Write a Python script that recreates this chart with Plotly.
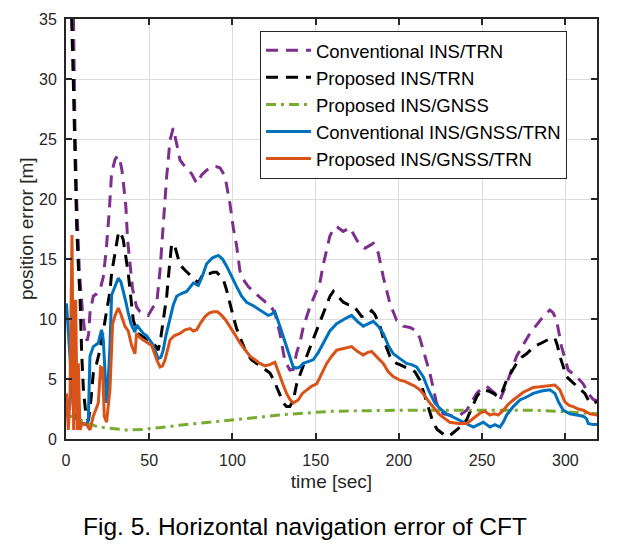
import plotly.graph_objects as go

# ---------------- data (time [sec], position error [m]) ----------------
conv_ins_trn = [
    (3.5, 45), (4.4, 34.6), (5.4, 26), (6.4, 20), (8, 14), (10, 10.5), (11.6, 8.5), (12.8, 8.2), (13.6, 8.8),
    (14.4, 10.5), (16.4, 11.9), (18.4, 12.1), (20.4, 12.4), (22.4, 13.5), (24.2, 15.8), (26, 19), (27.4, 22.2),
    (29.5, 23.3), (31, 23.6), (32.2, 23.4), (33.6, 22.4), (34.6, 21.2), (36, 19.3), (37, 16.6), (38.4, 14.5),
    (40, 12.5), (42.4, 11), (44.5, 10.6), (46.4, 10.4), (49.4, 10.3), (52.4, 11.0), (54.5, 11.3), (56.5, 14.1),
    (58.4, 18.25), (60.5, 21.9), (62.5, 24.9), (64.4, 25.9), (66.5, 24.6), (68.5, 23.25), (72, 22.6), (75.5, 22.1),
    (78.5, 21.3), (81.5, 22), (84.5, 22.4), (87.5, 22.7), (90, 22.7), (92.5, 22.6), (95.5, 21.9), (98.5, 19.6),
    (100.5, 17.6), (102.5, 16.1), (104.5, 14), (106.5, 13.3), (109.5, 12.7), (112.5, 12.3), (116.5, 11.8),
    (120, 11.4), (122.5, 11.2), (125.5, 10.5), (128.5, 8.8), (131.5, 6.5), (134.5, 5.75), (136.5, 5.8),
    (138.6, 7.2), (140.5, 8), (142.5, 9.3), (146.5, 11), (150, 12.2), (152.5, 13), (154.5, 14.5), (156.6, 15.75),
    (158.5, 16.9), (160.6, 17.5), (162.6, 17.7), (166.5, 17.3), (170.6, 17.6), (174.6, 16.6), (177, 16.1),
    (179.6, 15.9), (182, 16.1), (184.6, 16.3), (187.6, 15.5), (190.6, 13.5), (194.6, 11.3), (198.6, 9.9),
    (202.6, 9.4), (206.6, 9.3), (210.6, 9.0), (212.6, 8.4), (214.6, 7.4), (218.6, 5.5), (222.6, 3), (226.6, 2.1),
    (232.6, 1.9), (236.7, 2.0), (240.7, 2.4), (243.7, 3.1), (246.7, 3.8), (249.7, 4.2), (252.7, 4.4), (257.7, 3.8),
    (260.7, 3.25), (264.7, 4.6), (270.7, 6.9), (278.7, 8.8), (283, 9.6), (286.7, 10.2), (290.7, 10.75),
    (292.7, 10.5), (294.7, 9.9), (297.7, 7.7), (301.7, 5.75), (306.7, 5.2), (310.7, 4.6), (313.7, 3.8),
    (316.7, 3.3), (319, 3.2),
]

prop_ins_trn = [
    (2.5, 45), (3.4, 35), (4.4, 29.8), (5.4, 22.8), (6.4, 17.8), (7.4, 14.5), (8.4, 11.9), (9.4, 7.2), (10.5, 4),
    (12, 2), (13.5, 1.5), (15, 3.3), (16.4, 5.5), (18.4, 6.3), (20.4, 7.4), (22.4, 9), (24.4, 10.5), (26.4, 12.3),
    (27.4, 13.8), (28.4, 14.6), (30, 16), (31.4, 17.1), (32.5, 17.3), (34.4, 16.6), (35.8, 15.3), (37.4, 13.8),
    (40.4, 9.9), (43, 8.8), (46.4, 8.5), (50.5, 8.2), (53.5, 7.8), (55.4, 7.4), (57, 8.5), (58.5, 10), (60.5, 11.9),
    (62, 14.2), (63.5, 16.3), (65.5, 16.0), (68.5, 14.5), (72, 14.0), (75.5, 13.5), (79.5, 13), (82.5, 13.8),
    (86.5, 13.8), (88.5, 13.9), (90.5, 13.9), (92.5, 13.6), (94.5, 13.3), (96.5, 12.4), (98.5, 11.2),
    (100.5, 10.2), (102.5, 9.2), (105, 8.3), (108.5, 7.1), (111.5, 6.6), (114.5, 6.3), (117.5, 6.0), (120.5, 5.75),
    (122.5, 5.5), (124.5, 5.0), (126.5, 4.4), (128.5, 3.7), (130.5, 3.0), (132.5, 2.7), (134.5, 2.7), (136.5, 3.2),
    (138.6, 4.6), (141.5, 5.8), (144.6, 6.9), (147.6, 8.0), (150.6, 9.1), (153.6, 10.2), (156.6, 11.3),
    (158.6, 11.9), (160.6, 12.3), (163.5, 11.9), (166.6, 11.4), (169.5, 11.2), (172.6, 11.1), (175, 10.7),
    (177.6, 10.2), (180.5, 10.3), (183.6, 10.7), (185.5, 10.4), (188.6, 9.4), (191.5, 8.0), (194.6, 6.9),
    (196.6, 6.5), (198.6, 6.3), (200.6, 6.2), (203.6, 6.0), (206.6, 5.9), (209.6, 5.6), (212.6, 4.9), (214.6, 4.0),
    (216.6, 3.0), (218.6, 2.1), (220.7, 1.3), (223, 0.8), (225.7, 0.5), (228.6, 0.2), (231.6, 0.4), (234.7, 0.75),
    (237.7, 1.1), (240.7, 1.6), (243.7, 2.5), (246.7, 3.5), (248.7, 3.9), (250.7, 4.1), (253.7, 4.0), (256.7, 3.8),
    (259.7, 3.5), (262.2, 4.0), (264.7, 4.9), (267.7, 5.6), (270.7, 6.3), (273.7, 6.8), (276.7, 7.1), (279.7, 7.5),
    (282.7, 7.8), (285.7, 8.0), (288.7, 8.25), (291.2, 8.4), (293.7, 8.4), (295.2, 7.8), (296.7, 6.9), (298.7, 6.0),
    (300.7, 5.2), (303.7, 4.8), (306.7, 4.4), (309.2, 4.1), (311.7, 3.8), (313.2, 3.4), (314.7, 3.0), (316.7, 3.0),
    (319, 3.1),
]

prop_ins_gnss = [
    (0, 2.0), (5, 1.8), (10, 1.5), (15, 1.2), (20, 1.0), (28, 0.85), (36, 0.75), (46, 0.8), (54, 0.9), (60, 1.0),
    (68, 1.15), (80, 1.3), (90, 1.45), (100, 1.6), (115, 1.8), (128, 2.0), (140, 2.1), (158, 2.3), (175, 2.35),
    (190, 2.4), (205, 2.4), (220, 2.4), (235, 2.4), (250, 2.4), (265, 2.4), (280, 2.4), (295, 2.3), (305, 2.2),
    (319, 2.1),
]

conv_ins_gnss_trn = [
    (0.3, 11.3), (1.4, 9), (2.4, 6.3), (3.4, 4), (4.4, 2.5), (5.5, 1.8), (7, 1.5), (8.4, 1.3), (10, 1.3),
    (11.4, 1.2), (12.6, 1.3), (13.4, 1.6), (14.4, 6.9), (16.4, 7.7), (18.4, 7.9), (19.4, 8.0), (20.4, 8.6),
    (21.4, 9.1), (22.4, 8.25), (23.4, 5.5), (24.4, 3.0), (25.4, 5), (26.4, 7.7), (27.4, 12.0), (29, 12.6),
    (31.4, 13.4), (33, 13.1), (34.4, 12.4), (36, 11.4), (37.4, 10.5), (39, 9.6), (40.4, 9.2), (41.4, 8.9),
    (42.4, 9.5), (44, 9.2), (46.4, 8.8), (48.5, 8.6), (50.5, 8.25), (52, 7.9), (53.5, 7.4), (55.4, 6.7), (57, 6.8),
    (58.4, 7.4), (60, 8.6), (62.5, 10.2), (64.5, 11.2), (66.5, 11.9), (69, 12.1), (72.5, 12.3), (76.5, 13),
    (79.5, 12.8), (82, 13.6), (84.5, 14.6), (88, 15.1), (91.5, 15.3), (94, 15.0), (96.5, 14.4), (99.5, 13.5),
    (102.5, 12.7), (105.5, 11.9), (108.5, 11.4), (112.5, 11.1), (116.5, 10.75), (119, 10.5), (121.5, 10.3),
    (123.5, 10.4), (125.5, 10.6), (128.5, 9.4), (132.5, 7.7), (136.5, 6.0), (138.5, 5.9), (140.5, 6.0),
    (142.5, 6.3), (144.6, 6.4), (148.5, 6.6), (151.5, 7.2), (154.5, 8), (158.5, 9.0), (162.6, 9.6), (166, 9.9),
    (168.6, 10.1), (171.6, 10.3), (175, 9.8), (178.6, 9.4), (181.5, 9.6), (184.6, 9.8), (187.6, 9.4),
    (190.6, 8.8), (193.6, 7.8), (196.6, 7.1), (200.6, 6.7), (204.6, 6.3), (207.6, 6.2), (210.6, 6.0), (214.6, 5.2),
    (218, 4.0), (221.6, 3.0), (225, 2.5), (228.6, 2.1), (231.6, 1.9), (234.7, 1.7), (237.7, 1.5), (240.7, 1.3),
    (244.7, 1.0), (247.7, 1.2), (250.7, 1.4), (252.7, 1.2), (254.7, 1.0), (257.7, 1.2), (260.7, 1.0),
    (262.7, 1.4), (264.7, 2.0), (268.7, 2.7), (272.7, 3.25), (276.7, 3.5), (280.7, 3.8), (285.7, 4.0),
    (290.7, 4.1), (293.7, 3.8), (296.2, 3.0), (298.7, 2.4), (302.7, 2.1), (306.7, 2.0), (310.7, 1.9),
    (312.7, 1.7), (313.7, 1.3), (316.7, 1.2), (319, 1.2),
]

prop_ins_gnss_trn = [
    (0.3, 3.8), (1.4, 0.75), (2.4, 3.5), (3.6, 17), (4.6, 0.75), (5.8, 11.6), (6.8, 0.75), (7.4, 6.3), (8.4, 0.75),
    (9.4, 1.2), (10.4, 1.3), (12.4, 1.2), (14.4, 0.75), (16.4, 1.9), (19.4, 3.0), (20.8, 6.0), (22, 5.9), (23, 1.9),
    (24.4, 1.4), (26.4, 4.1), (28, 9.6), (29.5, 10.3), (31.4, 10.9), (33, 10.4), (35.4, 9.4), (37.4, 9.0),
    (39.4, 7.8), (41.4, 7.1), (42.4, 8.8), (44, 8.5), (46.4, 8.25), (49, 8.0), (51.5, 7.8), (53, 7.2), (54.5, 6.6),
    (56.5, 6.0), (58, 6.1), (59.5, 6.6), (61, 7.5), (62.5, 8.25), (65, 8.6), (68.5, 8.8), (71.5, 9.1), (74.5, 9.2),
    (76.5, 9.0), (78.5, 9.1), (81, 9.7), (83.5, 10.2), (86, 10.5), (88.5, 10.6), (91, 10.6), (93.5, 10.3),
    (96, 9.9), (98.5, 9.4), (101.5, 8.7), (104.5, 8.0), (107.5, 7.4), (110.5, 6.9), (113.5, 6.6), (116.5, 6.3),
    (119.5, 6.1), (122.5, 6.2), (125.5, 6.4), (128.5, 5.2), (130.5, 4.5), (132.5, 3.8), (134.5, 3.3), (136.5, 3.0),
    (139.5, 3.25), (142, 3.8), (144.6, 4.1), (147.5, 4.4), (150.6, 4.6), (153.6, 5.4), (156.6, 6.3), (159.6, 6.9),
    (162.6, 7.4), (165.5, 7.5), (168.6, 7.6), (171.6, 7.7), (175, 7.3), (178.6, 7.0), (181, 7.2), (183.6, 7.3),
    (187, 6.8), (190.6, 6.3), (193.6, 5.6), (196.6, 5.2), (200.6, 4.9), (203.6, 4.8), (206.6, 4.6), (209.6, 4.4),
    (212.6, 4.1), (215.6, 3.6), (218.6, 3.0), (221.6, 2.5), (224.6, 2.0), (227.6, 1.7), (230.6, 1.4),
    (235.7, 1.3), (240.7, 1.3), (243.7, 1.6), (246.7, 1.9), (249.2, 2.2), (251.7, 2.3), (254.7, 2.0),
    (257.2, 2.1), (259.7, 2.0), (262.7, 2.4), (265.7, 2.9), (268.7, 3.25), (271.7, 3.6), (274.7, 3.9),
    (277.7, 4.1), (280.7, 4.3), (284.7, 4.35), (288.7, 4.4), (293.7, 4.5), (296.7, 4.1), (299.7, 3.1),
    (302.2, 2.8), (304.7, 2.7), (307.7, 2.5), (310.7, 2.4), (314.7, 2.1), (319, 2.0),
]

series_names = [
    "Conventional INS/TRN",
    "Proposed INS/TRN",
    "Proposed INS/GNSS",
    "Conventional INS/GNSS/TRN",
    "Proposed INS/GNSS/TRN",
]
x_ticks = [0, 50, 100, 150, 200, 250, 300]
y_ticks = [0, 5, 10, 15, 20, 25, 30, 35]
x_label = "time [sec]"
y_label = "position error [m]"
caption = "Fig. 5. Horizontal navigation error of CFT"

# ---------------- styles ----------------
all_series = [conv_ins_trn, prop_ins_trn, prop_ins_gnss, conv_ins_gnss_trn, prop_ins_gnss_trn]
colors = ["#7E2F8E", "#000000", "#77AC30", "#0072BD", "#D95319"]
dashes = ["12px,8px", "12px,8px", "10px,5px,3px,5px", "solid", "solid"]
FONT = "Liberation Sans, Arial"

fig = go.Figure()
for data, name, col, dsh in zip(all_series, series_names, colors, dashes):
    t, v = zip(*data)
    fig.add_trace(go.Scatter(x=list(t), y=list(v), mode="lines", name=name,
                             line=dict(color=col, width=3, dash=dsh)))

axis_common = dict(
    showline=True, linecolor="#262626", linewidth=2, mirror="ticks",
    ticks="inside", ticklen=6, tickwidth=1.5, tickcolor="#262626",
    showgrid=True, gridcolor="#DCDCDC", gridwidth=1, zeroline=False,
    automargin=False,
    tickfont=dict(family=FONT, size=16, color="#262626"),
)

fig.update_xaxes(range=[0, 319], tickvals=x_ticks, ticklabelstandoff=6,
                 title=dict(text=x_label, standoff=6,
                            font=dict(family=FONT, size=19, color="#262626")),
                 **axis_common)
fig.update_yaxes(range=[0, 35], tickvals=y_ticks, ticklabelstandoff=4, **axis_common)

# page body has an 8px margin: the figure is shifted by (8, 8) inside the window
fig.update_layout(
    width=609, height=552,
    margin=dict(l=58, r=20, t=11, b=121),
    plot_bgcolor="white", paper_bgcolor="white",
    font=dict(family=FONT, color="#000000"),
    legend=dict(x=0.3653, y=0.972, xanchor="left", yanchor="top",
                bgcolor="white", bordercolor="#262626", borderwidth=1,
                font=dict(family=FONT, size=18.5, color="#000000"),
                itemwidth=45, tracegroupgap=0),
    annotations=[
        dict(text=y_label, textangle=-90, xref="paper", yref="paper", x=-0.0753, y=0.5,
             xanchor="center", yanchor="middle", showarrow=False,
             font=dict(family=FONT, size=19, color="#262626")),
        dict(text=caption, xref="paper", yref="paper", x=0.450, y=-0.2095,
             xanchor="center", yanchor="middle", showarrow=False,
             font=dict(family=FONT, size=24.5, color="#000000")),
    ],
)

fig.write_html("out.html")
